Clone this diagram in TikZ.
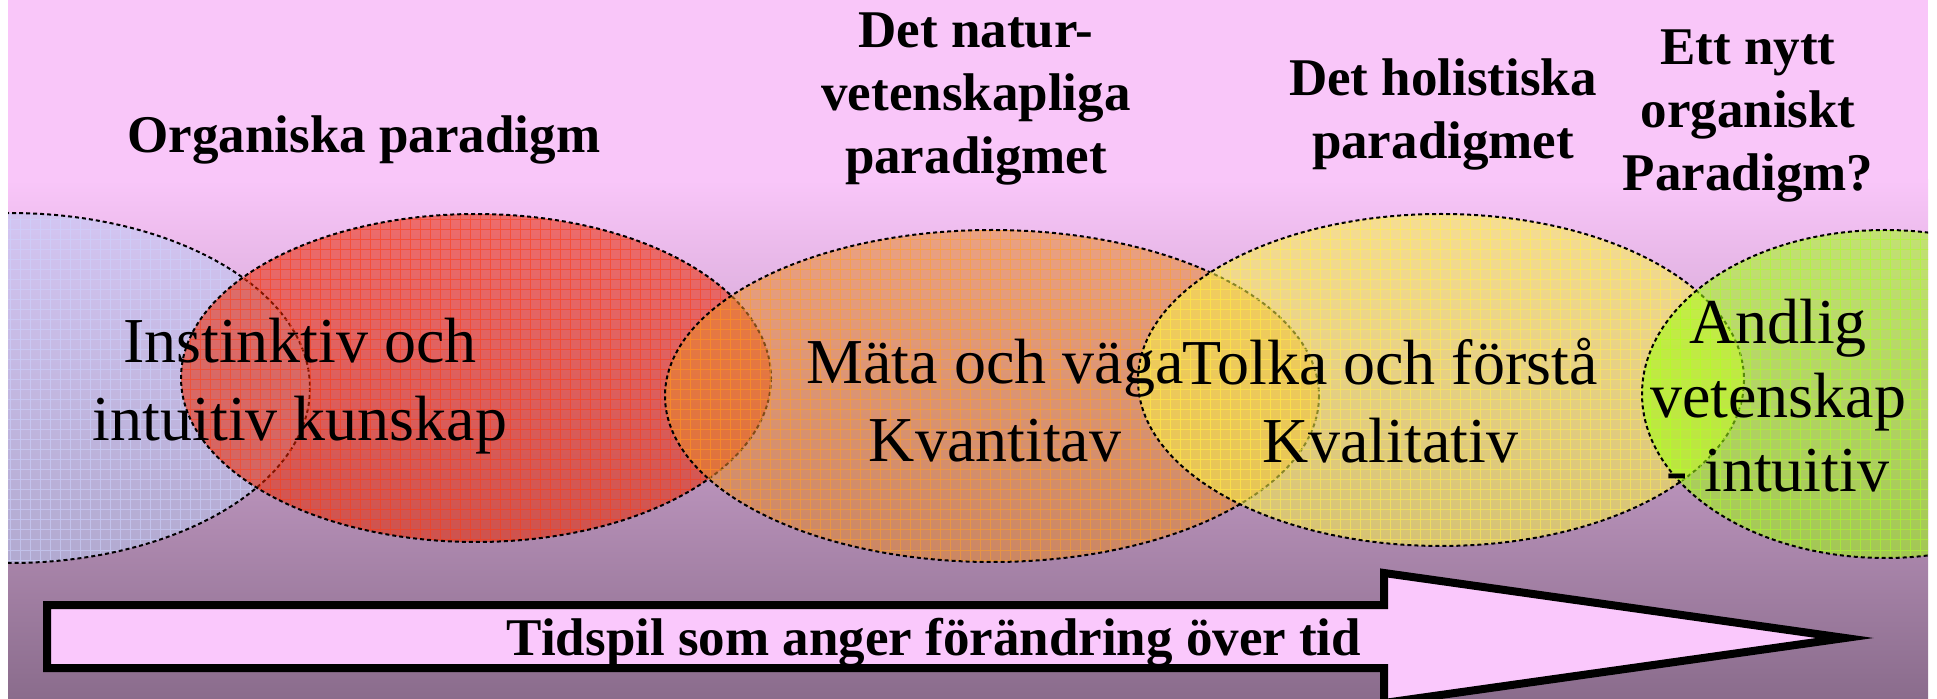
\documentclass[tikz,border=0pt]{standalone}
\usepackage{fontspec}
\setmainfont{Liberation Serif}

\definecolor{bgpink}{RGB}{249,198,249}
\definecolor{bgdark}{RGB}{138,108,140}
\definecolor{arrowpink}{RGB}{250,200,252}
\definecolor{lavfill}{RGB}{187,202,242}
\definecolor{lavgrid}{RGB}{205,212,255}
\definecolor{redfill}{RGB}{235,40,0}
\definecolor{redgrid}{RGB}{255,60,20}
\definecolor{orangefill}{RGB}{233,138,42}
\definecolor{orangegrid}{RGB}{255,160,40}
\definecolor{yellowfill}{RGB}{250,245,70}
\definecolor{yellowgrid}{RGB}{255,240,80}
\definecolor{greenfill}{RGB}{160,255,15}
\definecolor{greengrid}{RGB}{170,255,40}

\tikzset{
  heading/.style={font=\fontsize{26.5}{31.5}\selectfont\bfseries, align=center, inner sep=0pt},
  bubbletext/.style={font=\fontsize{32}{39}\selectfont, align=center, inner sep=0pt},
  bubble/.style={draw=black, line width=1pt, dash pattern=on 2pt off 1.5pt},
  gridlines/.style={line width=0.5pt, draw opacity=0.55},
}

\begin{document}
\begin{tikzpicture}[x=0.5pt, y=-0.5pt]
            \useasboundingbox (0,0) rectangle (1937,699);
            \clip (8,0) rectangle (1928,699);

            % background
            \fill[bgpink] (8,0) rectangle (1928,180);
            \shade[top color=bgpink, bottom color=bgdark] (8,180) rectangle (1928,699);

            % lavender bubble
            \begin{scope}
              \clip (10,388) ellipse [x radius=300, y radius=175];
              \fill[lavfill, fill opacity=0.55] (-290,213) rectangle (310,563);
              \draw[lavgrid, gridlines, step=5pt] (-290,213) grid (310,563);
            \end{scope}
            \draw[bubble] (10,388) ellipse [x radius=300, y radius=175];

            % red bubble
            \begin{scope}
              \clip (476,378) ellipse [x radius=295, y radius=164];
              \fill[redfill, fill opacity=0.55] (181,214) rectangle (771,542);
              \draw[redgrid, gridlines, step=5pt] (181,214) grid (771,542);
            \end{scope}
            \draw[bubble] (476,378) ellipse [x radius=295, y radius=164];

            % orange bubble
            \begin{scope}
              \clip (992,396) ellipse [x radius=327, y radius=166];
              \fill[orangefill, fill opacity=0.55] (665,230) rectangle (1319,562);
              \draw[orangegrid, gridlines, step=5pt] (665,230) grid (1319,562);
            \end{scope}
            \draw[bubble] (992,396) ellipse [x radius=327, y radius=166];

            % yellow bubble
            \begin{scope}
              \clip (1441,380) ellipse [x radius=303, y radius=166];
              \fill[yellowfill, fill opacity=0.55] (1138,214) rectangle (1744,546);
              \draw[yellowgrid, gridlines, step=5pt] (1138,214) grid (1744,546);
            \end{scope}
            \draw[bubble] (1441,380) ellipse [x radius=303, y radius=166];

            % green bubble
            \begin{scope}
              \clip (1885,394) ellipse [x radius=243, y radius=164];
              \fill[greenfill, fill opacity=0.55] (1642,230) rectangle (2128,558);
              \draw[greengrid, gridlines, step=5pt] (1642,230) grid (2128,558);
            \end{scope}
            \draw[bubble] (1885,394) ellipse [x radius=243, y radius=164];

            % paradigm headings
            \node[heading, anchor=base] (organiska) at (364,153) {Organiska paradigm};
            \node[heading] (natur) at (976,99) {Det natur-\\vetenskapliga\\paradigmet};
            \node[heading] (holistiska) at (1443,114) {Det holistiska\\paradigmet};
            \node[heading] (nytt) at (1748,116) {Ett nytt\\organiskt\\Paradigm?};

            % ways of knowing
            \node[bubbletext] (instinktiv) at (300,386) {Instinktiv och\\intuitiv kunskap};
            \node[bubbletext] (mata) at (995,401) {Mäta och väga\\Kvantitav};
            \node[bubbletext] (tolka) at (1390,401) {Tolka och förstå\\Kvalitativ};
            \node[bubbletext, font=\fontsize{32}{37}\selectfont] (andlig) at (1778,396) {Andlig\\vetenskap\\- intuitiv};

            % time arrow
            \draw[line width=4pt, fill=arrowpink, miter limit=20] (47,605) -- (1384,605) -- (1384,573) -- (1845,638) -- (1384,703) -- (1384,668) -- (47,668) -- cycle;
            \node[heading, anchor=base] (tidspil) at (934,655) {Tidspil som anger förändring över tid};
\end{tikzpicture}
\end{document}
